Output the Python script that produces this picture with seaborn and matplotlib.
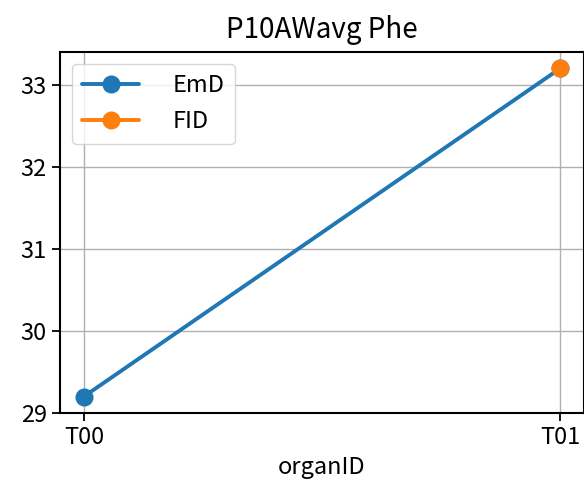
import matplotlib
matplotlib.use("Agg")
import matplotlib.pyplot as plt
import pandas as pd
import seaborn as sns

# Values per organ and group
organ_ids = ["T00", "T01", "T01"]
groups = ["EmD", "EmD", "FID"]
values = [29.2, 33.2, 33.2]

hue_order = ["EmD", "FID"]
palette = ["#1f77b4", "#ff7f0e"]

df = pd.DataFrame({"organID": organ_ids, "Group": groups, "value": values})

sns.set_style("ticks")
plt.rcParams["font.family"] = ["Noto Sans CJK SC", "DejaVu Sans"]
plt.rcParams["text.color"] = "black"
plt.rcParams["axes.labelcolor"] = "black"
plt.rcParams["xtick.color"] = "black"
plt.rcParams["ytick.color"] = "black"

fig = plt.figure(figsize=(5.84, 4.9), dpi=100)
ax = fig.add_axes([60 / 584, 1 - 413 / 490, 524 / 584, (413 - 52) / 490])

sns.lineplot(data=df, x="organID", y="value", hue="Group", hue_order=hue_order,
             palette=palette, marker="o", markersize=13, markeredgewidth=0,
             linewidth=2.8, ax=ax, sort=False)

ax.set_title("P10AWavg Phe", fontsize=20, pad=10)
ax.set_xlabel("organID", fontsize=17, labelpad=5)
ax.set_ylabel("")
ax.set_yticks([29, 30, 31, 32, 33])
ax.tick_params(axis="both", labelsize=17, length=6, width=1.3, color="black")
ax.grid(True, color="#b0b0b0", linewidth=1.0)
ax.set_axisbelow(True)
for s in ax.spines.values():
    s.set_visible(True)
    s.set_color("black")
    s.set_linewidth(1.5)

leg = ax.legend(loc="upper left", fontsize=17, handlelength=2.4, handletextpad=1.4,
                frameon=True, fancybox=True, framealpha=0.8, edgecolor="#cccccc",
                borderpad=0.45, labelspacing=0.55, borderaxespad=0.5)
for t in leg.get_texts():
    t.set_color("black")

fig.savefig("out.png", dpi=100)
